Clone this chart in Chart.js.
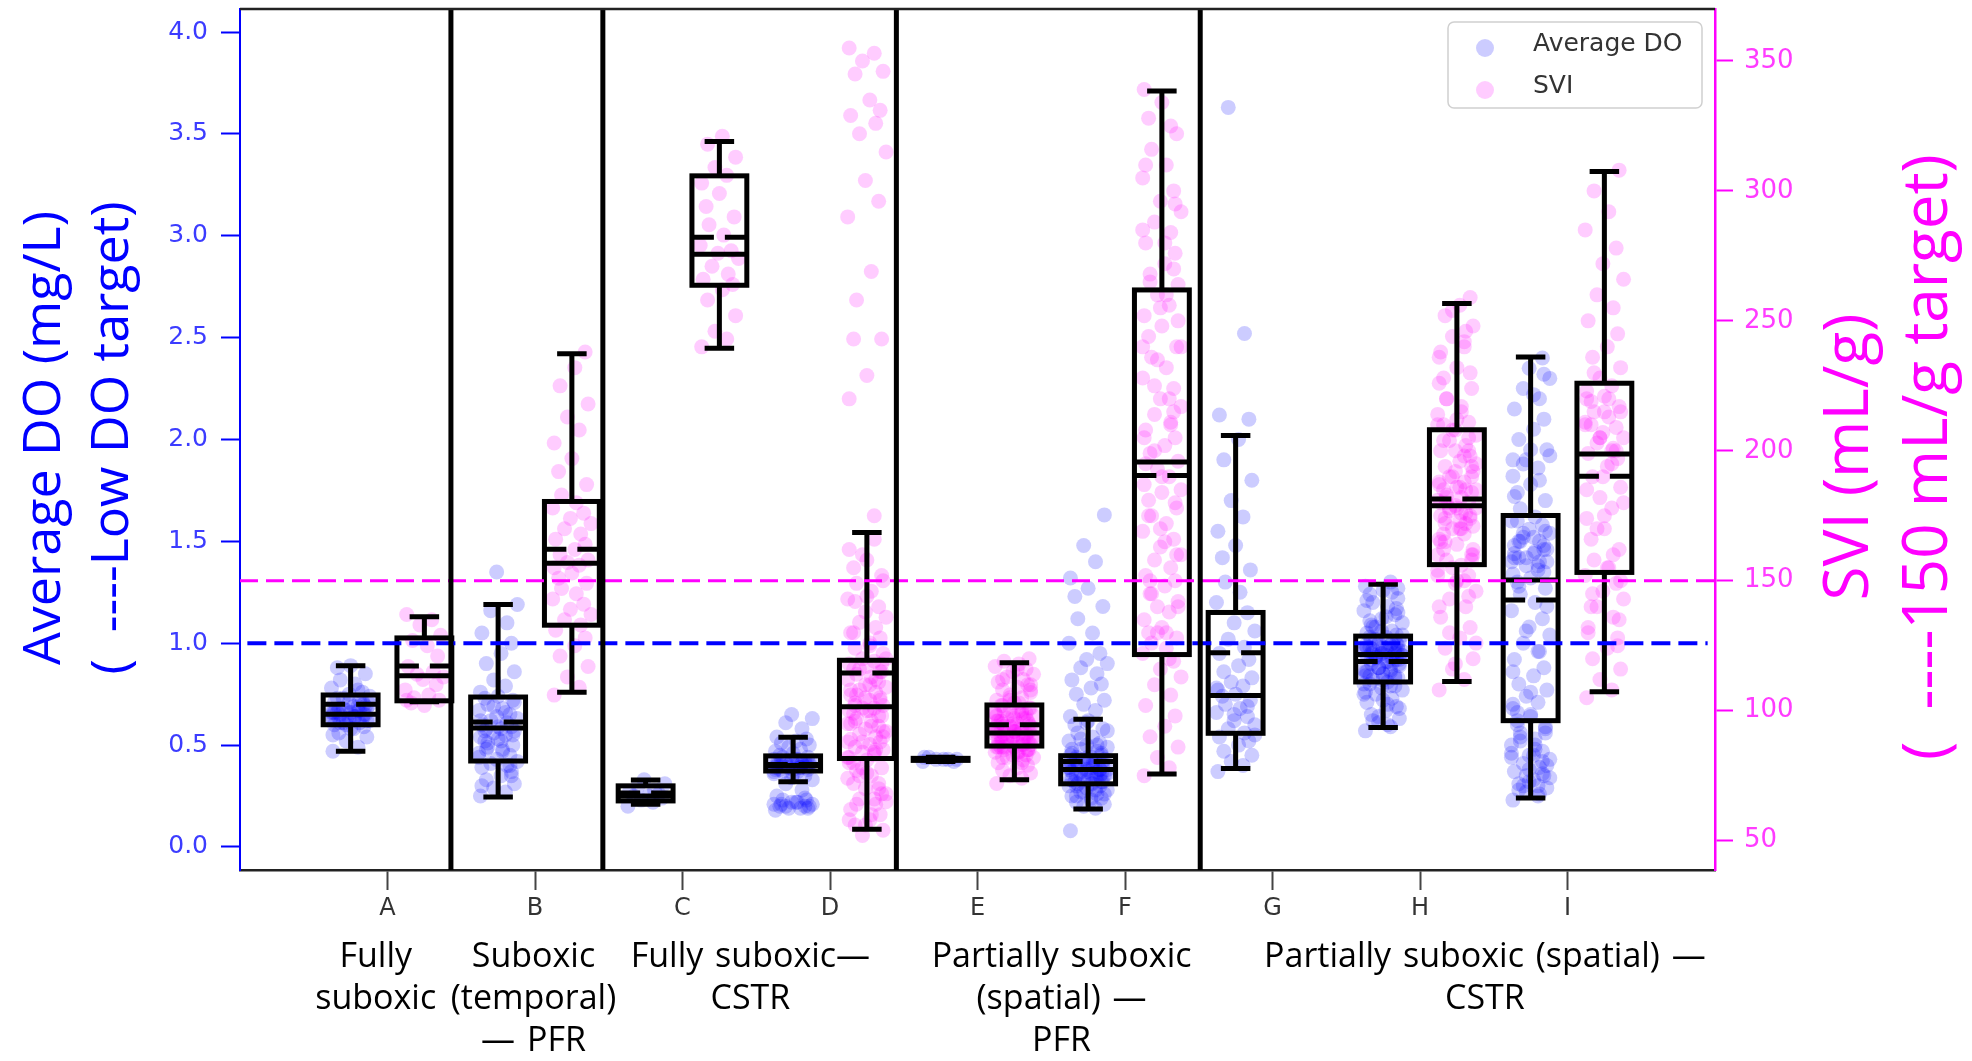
<!DOCTYPE html>
<html lang="en">
<head>
  <meta charset="UTF-8">
  <title>Average DO and SVI by operating mode</title>
  <script src="https://cdn.jsdelivr.net/npm/chart.js"></script>
  <style>
    body { margin: 0; background: #fff; }
    canvas { display: block; }
  </style>
</head>
<body>
<canvas id="doChart" width="1972" height="1061"></canvas>

<script>
  // Categories and group captions
  const CATS = ['A', 'B', 'C', 'D', 'E', 'F', 'G', 'H', 'I'];
  const GROUP_LABELS = [
    ['Fully', 'suboxic'],
    ['Suboxic', '(temporal)', '\u2014 PFR'],
    ['Fully suboxic\u2014', 'CSTR'],
    ['Partially suboxic', '(spatial) \u2014', 'PFR'],
    ['Partially suboxic (spatial) \u2014', 'CSTR']
  ];
  const GROUP_X = [-0.08, 0.99, 2.46, 4.57, 7.44];
  const SEPARATORS = [0.43, 1.46, 3.45, 5.51];

  const DO_TICKS = [0, 0.5, 1.0, 1.5, 2.0, 2.5, 3.0, 3.5, 4.0];
  const SVI_TICKS = [50, 100, 150, 200, 250, 300, 350];
  const DO_TARGET = 1.0;
  const SVI_TARGET = 150;

  // Average DO (mg/L) samples per category
  const DO_A = [0.47,0.49,0.52,0.54,0.56,0.58,0.59,0.60,0.61,0.61,0.62,0.63,0.63,0.64,0.64,0.65,0.65,0.66,0.66,0.66,0.67,0.67,0.68,0.68,0.69,0.70,0.71,0.72,0.73,0.74,0.75,0.76,0.78,0.80,0.82,0.85,0.88,0.89,0.62,0.69,
    0.60,0.62,0.63,0.64,0.65,0.66,0.67,0.68,0.70,0.71,0.72,0.66,0.64,0.61,0.69,0.73,0.58,0.55,0.77,0.63];
  const DO_B = [0.25,0.27,0.29,0.31,0.33,0.35,0.37,0.39,0.40,0.41,0.42,0.43,0.45,0.46,0.48,0.49,0.50,0.52,0.53,0.54,0.55,0.56,0.57,0.58,0.58,0.59,0.60,0.61,0.62,0.63,0.64,0.65,0.67,0.68,0.70,0.72,0.73,0.74,0.76,0.79,0.82,0.86,0.90,0.95,1.00,1.05,1.10,1.16,1.19,1.35,
    0.40,0.44,0.47,0.51,0.55,0.57,0.59,0.62,0.66,0.69,0.71,0.48,0.52,0.35,0.30];
  const DO_C = [0.20,0.22,0.23,0.24,0.25,0.25,0.26,0.27,0.28,0.30,0.31,0.33];
  const DO_D = [0.18,0.19,0.19,0.20,0.21,0.22,0.23,0.25,0.28,0.31,0.33,0.34,0.35,0.36,0.37,0.37,0.38,0.38,0.38,0.39,0.39,0.39,0.40,0.40,0.40,0.40,0.41,0.41,0.41,0.42,0.42,0.42,0.43,0.43,0.44,0.44,0.45,0.46,0.47,0.48,0.49,0.50,0.51,0.52,0.53,0.54,0.58,0.61,0.63,0.65,0.20,0.21,0.22,0.23,0.19,0.20,
    0.36,0.38,0.39,0.40,0.41,0.42,0.43,0.39,0.40,0.41,0.20,0.21,0.22,0.24,0.37];
  const DO_E = [0.42,0.43,0.43,0.43,0.44,0.43,0.42,0.44];
  const DO_F = [0.08,0.19,0.20,0.21,0.22,0.23,0.24,0.25,0.26,0.27,0.28,0.29,0.30,0.30,0.31,0.31,0.32,0.32,0.33,0.33,0.34,0.34,0.35,0.35,0.36,0.36,0.37,0.37,0.37,0.38,0.38,0.38,0.39,0.39,0.40,0.40,0.41,0.41,0.42,0.42,0.43,0.43,0.44,0.44,0.45,0.46,0.47,0.48,0.49,0.50,0.51,0.52,0.54,0.56,0.58,0.60,0.62,0.64,0.67,0.70,0.72,0.75,0.78,0.80,0.82,0.85,0.88,0.90,0.92,0.95,1.00,1.05,1.12,1.18,1.23,1.27,1.32,1.40,1.48,1.63,
    0.30,0.31,0.32,0.33,0.34,0.35,0.36,0.37,0.38,0.39,0.40,0.41,0.42,0.43,0.44,0.45,0.28,0.27,0.26,0.25,0.24,0.46,0.48,0.50,0.53,0.57,0.61,0.35,0.38,0.41];
  const DO_G = [0.37,0.40,0.42,0.45,0.47,0.50,0.52,0.54,0.56,0.58,0.60,0.62,0.64,0.66,0.68,0.70,0.72,0.74,0.75,0.77,0.79,0.81,0.83,0.86,0.89,0.92,0.95,0.98,1.02,1.06,1.10,1.15,1.20,1.25,1.30,1.36,1.42,1.48,1.55,1.62,1.70,1.80,1.90,2.00,2.10,2.12,2.52,3.63,0.55,0.65,0.69,0.78];
  const DO_H = [0.57,0.59,0.61,0.63,0.65,0.67,0.69,0.71,0.73,0.75,0.77,0.78,0.79,0.80,0.81,0.82,0.83,0.84,0.85,0.86,0.87,0.88,0.89,0.90,0.91,0.92,0.93,0.93,0.94,0.94,0.95,0.95,0.96,0.96,0.97,0.97,0.98,0.98,0.99,0.99,1.00,1.01,1.02,1.03,1.04,1.05,1.06,1.08,1.10,1.12,1.14,1.16,1.18,1.20,1.22,1.24,1.26,1.28,1.30,0.88,0.92,0.95,0.97,1.00,0.86,0.90,0.93,0.96,0.99,0.84,0.75,0.70,1.08,1.15,
    0.80,0.82,0.84,0.86,0.88,0.90,0.92,0.94,0.96,0.98,1.00,1.02,1.04,1.06,0.83,0.87,0.91,0.95,0.99,1.03,0.72,0.76,0.79,0.64,0.68,1.09,1.13,1.17,1.21,1.25,0.93,0.94,0.95,0.96,0.97,0.60,0.62,1.27,1.11,0.85];
  const DO_I = [0.23,0.25,0.27,0.29,0.31,0.33,0.35,0.37,0.39,0.41,0.43,0.45,0.47,0.50,0.53,0.56,0.59,0.62,0.65,0.68,0.71,0.74,0.77,0.80,0.84,0.88,0.92,0.96,1.00,1.04,1.08,1.12,1.16,1.20,1.24,1.27,1.30,1.32,1.34,1.36,1.38,1.40,1.42,1.44,1.46,1.48,1.50,1.52,1.54,1.56,1.58,1.60,1.62,1.66,1.70,1.74,1.78,1.82,1.86,1.90,1.95,2.00,2.05,2.10,2.15,2.20,2.25,2.30,2.35,2.40,1.40,1.45,1.50,1.55,1.60,1.95,1.90,0.30,0.35,0.40,0.28,0.45,1.35,1.42,
    0.26,0.30,0.34,0.38,0.42,0.46,0.50,0.54,0.58,0.60,0.64,0.70,1.38,1.42,1.46,1.50,1.52,1.48,1.44,1.40,1.88,1.92,0.32,0.36,0.44,0.48,0.52,0.56,0.66,0.76,0.86,0.96,1.06,1.18,1.28,2.22,2.32,1.72,1.80,1.54];

  // SVI (mL/g) samples per category (none for G)
  const SVI_A = [137,135,133,129,127,125,121,117,115,114,113,112,110,108,106,105,104,103,102,104];
  const SVI_B = [106,109,113,117,121,125,128,131,133,135,137,139,141,143,145,147,149,151,153,155,156,157,158,160,162,164,166,168,170,172,174,176,178,180,183,187,192,197,203,208,213,218,225,232,238];
  const SVI_C = [240,243,246,252,258,262,264,266,268,271,274,276,277,279,283,287,290,294,299,303,306,309,313,318,321];
  const SVI_D = [355,353,350,346,345,335,331,329,326,322,315,304,296,290,269,258,243,243,229,220,175,
    52,54,56,58,60,62,64,66,68,70,72,74,75,77,78,80,81,82,83,84,85,86,87,88,89,90,91,92,93,94,95,96,97,98,99,100,100,101,101,102,103,104,105,106,107,108,109,110,111,112,113,114,115,116,117,118,119,120,122,124,126,128,130,132,134,136,138,140,143,146,149,152,155,158,162,166,160,150,142,125,115,95,85,75,65,105,98,88,
    60,64,68,72,76,80,84,88,92,96,100,104,108,112,116,120,56,70,82,94,106,118,130,144,58,66,78,90,102,110];
  const SVI_E = [72,74,75,76,77,78,79,80,81,82,82,83,83,84,84,85,85,86,86,86,87,87,87,88,88,88,89,89,89,90,90,90,91,91,91,92,92,92,93,93,94,94,95,95,96,96,97,97,98,98,99,99,100,100,101,102,103,104,105,106,107,108,109,110,111,112,113,114,115,116,117,118,119,120,88,92,96,100,104,110,
    82,84,85,86,87,88,89,90,91,92,93,94,95,96,97,98,99,100,101,102,83,85,87,89,91,93,95,97,99,103,86,88,90,92,94,80,105,108,112,116];
  const SVI_F = [75,78,82,86,90,94,98,102,106,110,113,116,119,122,124,126,128,130,132,135,138,140,142,145,148,150,152,155,158,160,163,166,169,172,175,178,181,184,187,190,193,196,199,202,205,208,211,214,217,220,224,228,232,236,240,244,248,252,256,260,264,268,272,276,280,284,288,292,296,300,305,310,316,322,328,334,339,120,130,140,150,165,180,195,210,225,240,255,270,285,
    130,145,160,175,190,205,220,235,250,265,280,295,310,325,200,185,170,215,240,260];
  const SVI_G = [];
  const SVI_H = [108,112,116,120,124,128,132,136,140,143,146,149,152,154,156,158,160,162,164,166,168,170,171,172,173,174,175,176,177,178,179,180,181,182,183,184,185,186,187,188,190,192,194,196,198,200,202,204,206,208,211,214,217,220,224,228,232,236,240,244,248,252,256,259,165,172,178,185,192,200,160,170,180,190,210,150,140,
    150,155,160,165,170,175,180,185,190,195,200,205,210,215,220,158,168,178,188,198,208,162,174,186,230,238,246,130,126,118,144,152,176,182,194,204,212,226,242,254];
  const SVI_I = [105,108,112,116,120,124,128,132,136,140,143,146,149,152,155,158,162,166,170,174,178,182,186,190,194,197,199,201,203,205,207,209,211,213,215,217,219,221,223,225,228,232,236,240,245,250,255,260,266,272,278,285,292,300,308,210,215,220,200,205,150,145,155,125,130,
    160,170,180,190,200,210,220,230,135,140,175,185,195,205,215];

  // Box statistics (whisker low, Q1, median, mean, Q3, whisker high)
  const DO_WLO  = [0.47, 0.245, 0.21, 0.32, 0.42, 0.186, 0.385, 0.586, 0.241];
  const DO_Q1   = [0.60, 0.422, 0.226, 0.373, 0.425, 0.31, 0.558, 0.81, 0.62];
  const DO_MED  = [0.652, 0.584, 0.25, 0.40, 0.43, 0.38, 0.743, 0.945, 1.311];
  const DO_MEAN = [0.70, 0.613, 0.265, 0.405, 0.43, 0.42, 0.953, 0.91, 1.212];
  const DO_Q3   = [0.746, 0.736, 0.30, 0.447, 0.435, 0.448, 1.151, 1.035, 1.627];
  const DO_WHI  = [0.889, 1.19, 0.329, 0.539, 0.44, 0.627, 2.02, 1.289, 2.405];

  const SVI_WLO  = [103.4, 107.1, 239.5, 54.4, 73.4, 75.6, null, 111.2, 107.3];
  const SVI_Q1   = [103.8, 132.9, 263.7, 81.6, 86.4, 121.6, null, 156.2, 153.2];
  const SVI_MED  = [113.4, 156.7, 275.6, 101.5, 91.4, 195.7, null, 178.9, 198.8];
  const SVI_MEAN = [117.2, 162.1, 282.2, 114.5, 94.6, 190.5, null, 181.5, 190.2];
  const SVI_Q3   = [128.0, 180.5, 305.8, 119.4, 102.2, 261.9, null, 208.1, 226.0];
  const SVI_WHI  = [136.1, 237.3, 319.0, 168.6, 118.4, 338.4, null, 256.7, 307.5];

  // strip-plot horizontal spread (in category units)
  const JITTER = [-0.12, 0.05, -0.03, 0.11, -0.08, 0.02, 0.09, -0.11, 0.06, -0.05, 0.13, -0.01, 0.08, -0.13, 0.03, -0.07, 0.10, -0.09, 0.0];
  const DO_SHIFT = -0.25;
  const SVI_SHIFT = 0.25;

  const BLUE = '#0000ff';
  const MAGENTA = '#ff00ff';

  function strip(groups, shift) {
    const pts = [];
    groups.forEach((vals, i) => {
      vals.forEach((v, k) => pts.push({ x: i + shift + JITTER[k % JITTER.length], y: v }));
    });
    return pts;
  }

  const doPoints = strip([DO_A, DO_B, DO_C, DO_D, DO_E, DO_F, DO_G, DO_H, DO_I], DO_SHIFT);
  const sviPoints = strip([SVI_A, SVI_B, SVI_C, SVI_D, SVI_E, SVI_F, SVI_G, SVI_H, SVI_I], SVI_SHIFT);

  function drawBoxes(ctx, xs, ys, shift, st) {
    const halfBox = 0.186, halfCap = 0.1;
    ctx.save();
    ctx.strokeStyle = '#000';
    ctx.lineWidth = 5;
    ctx.lineCap = 'butt';
    for (let i = 0; i < CATS.length; i++) {
      if (st.q1[i] == null) continue;
      const cx = i + shift;
      const xl = xs.getPixelForValue(cx - halfBox), xr = xs.getPixelForValue(cx + halfBox);
      const xm = xs.getPixelForValue(cx);
      const cl = xs.getPixelForValue(cx - halfCap), cr = xs.getPixelForValue(cx + halfCap);
      const yq1 = ys.getPixelForValue(st.q1[i]), yq3 = ys.getPixelForValue(st.q3[i]);
      const ylo = ys.getPixelForValue(st.lo[i]), yhi = ys.getPixelForValue(st.hi[i]);
      const ymed = ys.getPixelForValue(st.med[i]), ymean = ys.getPixelForValue(st.mean[i]);
      ctx.setLineDash([]);
      ctx.beginPath();
      // whiskers
      ctx.moveTo(xm, yq1); ctx.lineTo(xm, ylo);
      ctx.moveTo(xm, yq3); ctx.lineTo(xm, yhi);
      ctx.moveTo(cl, ylo); ctx.lineTo(cr, ylo);
      ctx.moveTo(cl, yhi); ctx.lineTo(cr, yhi);
      ctx.stroke();
      ctx.strokeRect(xl, yq3, xr - xl, yq1 - yq3);
      ctx.beginPath();
      ctx.moveTo(xl, ymed); ctx.lineTo(xr, ymed);
      ctx.stroke();
      const w = xr - xl;
      ctx.setLineDash([w * 0.4, w * 0.2]);
      ctx.beginPath();
      ctx.moveTo(xl, ymean); ctx.lineTo(xr, ymean);
      ctx.stroke();
    }
    ctx.restore();
  }

  const overlay = {
    id: 'overlay',
    afterDatasetDraw(chart, args) {
      if (args.index !== 2) return;
      const { ctx, scales } = chart;
      drawBoxes(ctx, scales.x, scales.y, DO_SHIFT,
        { lo: DO_WLO, q1: DO_Q1, med: DO_MED, mean: DO_MEAN, q3: DO_Q3, hi: DO_WHI });
      drawBoxes(ctx, scales.x, scales.y2, SVI_SHIFT,
        { lo: SVI_WLO, q1: SVI_Q1, med: SVI_MED, mean: SVI_MEAN, q3: SVI_Q3, hi: SVI_WHI });
    },
    afterDatasetsDraw(chart) {
      const { ctx, chartArea: ca, scales } = chart;
      ctx.save();
      // group separators
      ctx.strokeStyle = '#000';
      ctx.lineWidth = 5;
      SEPARATORS.forEach(s => {
        const x = scales.x.getPixelForValue(s);
        ctx.beginPath(); ctx.moveTo(x, ca.top); ctx.lineTo(x, ca.bottom); ctx.stroke();
      });
      // top frame line
      ctx.strokeStyle = '#222';
      ctx.lineWidth = 2.5;
      ctx.beginPath(); ctx.moveTo(ca.left, ca.top); ctx.lineTo(ca.right, ca.top); ctx.stroke();

      // legend
      const lx = ca.right - 267, ly = ca.top + 13, lw = 254, lh = 86;
      ctx.fillStyle = 'rgba(255,255,255,0.85)';
      ctx.strokeStyle = '#d0d0d0';
      ctx.lineWidth = 1.5;
      ctx.beginPath(); ctx.roundRect(lx, ly, lw, lh, 6); ctx.fill(); ctx.stroke();
      const items = [['Average DO', 'rgba(0,0,255,0.2)'], ['SVI', 'rgba(255,0,255,0.2)']];
      items.forEach((it, k) => {
        const y = ly + 22 + k * 42;
        ctx.fillStyle = it[1];
        ctx.beginPath(); ctx.arc(lx + 37, y + 4, 9, 0, Math.PI * 2); ctx.fill();
        ctx.fillStyle = '#333';
        ctx.font = '25px "DejaVu Sans"';
        ctx.textAlign = 'left';
        ctx.textBaseline = 'middle';
        ctx.fillText(it[0], lx + 85, y);
      });
      ctx.restore();
    },
    afterDraw(chart) {
      const { ctx, scales } = chart;
      ctx.save();
      // axis titles, read bottom-to-top on both sides
      const title = (lines, xs, yc, color, size) => {
        lines.forEach((t, k) => {
          ctx.save();
          ctx.translate(xs[k], yc);
          ctx.rotate(-Math.PI / 2);
          ctx.fillStyle = color;
          ctx.font = size + 'px "Open Sans"';
          ctx.textAlign = 'center';
          ctx.textBaseline = 'alphabetic';
          ctx.fillText(t, 0, 0);
          ctx.restore();
        });
      };
      title(['Average DO (mg/L)', '(  ----Low DO target)'], [60, 128], 438, BLUE, 52);
      title(['SVI (mL/g)', '(  ----150 mL/g target)'], [1868, 1947], 457, MAGENTA, 62);

      // category group captions
      ctx.fillStyle = '#000';
      ctx.font = '34px "Open Sans"';
      ctx.wordSpacing = '3px';
      ctx.textAlign = 'center';
      ctx.textBaseline = 'alphabetic';
      GROUP_LABELS.forEach((lines, g) => {
        const x = scales.x.getPixelForValue(GROUP_X[g]);
        lines.forEach((t, k) => ctx.fillText(t, x, 967 + k * 42));
      });
      ctx.restore();
    }
  };

  const noPad = s => { s.paddingTop = 0; s.paddingBottom = 0; };

  const ctx = document.getElementById('doChart').getContext('2d');
  new Chart(ctx, {
    data: {
      datasets: [
        {
          type: 'line', label: 'SVI target', yAxisID: 'y2',
          data: [{ x: -1, y: SVI_TARGET }, { x: 9, y: SVI_TARGET }],
          borderColor: MAGENTA, borderWidth: 3, borderDash: [18, 8], pointRadius: 0, fill: false
        },
        {
          type: 'line', label: 'DO target', yAxisID: 'y',
          data: [{ x: -0.95, y: DO_TARGET }, { x: 8.95, y: DO_TARGET }],
          borderColor: BLUE, borderWidth: 4, borderDash: [19, 8], pointRadius: 0, fill: false
        },
        {
          type: 'scatter', label: 'SVI', yAxisID: 'y2', data: sviPoints,
          pointRadius: 7.5, pointHoverRadius: 7.5, borderWidth: 0,
          backgroundColor: 'rgba(255,0,255,0.2)'
        },
        {
          type: 'scatter', label: 'Average DO', yAxisID: 'y', data: doPoints,
          pointRadius: 7.5, pointHoverRadius: 7.5, borderWidth: 0,
          backgroundColor: 'rgba(0,0,255,0.2)'
        }
      ]
    },
    options: {
      responsive: false,
      animation: false,
      layout: { padding: { top: 9, left: 0, right: 0, bottom: 0 } },
      plugins: { legend: { display: false }, tooltip: { enabled: false } },
      scales: {
        x: {
          type: 'linear', position: 'bottom', min: -1, max: 9,
          afterBuildTicks: s => { s.ticks = CATS.map((c, i) => ({ value: i })); },
          afterFit: s => { s.height = 191; s.paddingLeft = 0; s.paddingRight = 0; },
          ticks: {
            callback: v => CATS[v], color: '#333', padding: 4,
            font: { family: 'DejaVu Sans', size: 24 }, maxRotation: 0, autoSkip: false
          },
          grid: { drawOnChartArea: false, tickLength: 20, tickWidth: 2, tickColor: '#444' },
          border: { color: '#222', width: 2.5 }
        },
        y: {
          type: 'linear', position: 'left', min: -0.113, max: 4.113,
          afterBuildTicks: s => { s.ticks = DO_TICKS.map(v => ({ value: v })); },
          afterFit: s => { s.width = 240; noPad(s); },
          ticks: {
            callback: v => v.toFixed(1), color: '#3c3cff', padding: 13,
            font: { family: 'DejaVu Sans', size: 25 }
          },
          grid: { drawOnChartArea: false, tickLength: 19, tickWidth: 2, tickColor: BLUE },
          border: { color: BLUE, width: 2 }
        },
        y2: {
          type: 'linear', position: 'right', min: 38.7, max: 370,
          afterBuildTicks: s => { s.ticks = SVI_TICKS.map(v => ({ value: v })); },
          afterFit: s => { s.width = 257; noPad(s); },
          ticks: {
            color: '#ff3cff', padding: 11,
            font: { family: 'DejaVu Sans', size: 26 }
          },
          grid: { drawOnChartArea: false, tickLength: 18, tickWidth: 2, tickColor: MAGENTA },
          border: { color: MAGENTA, width: 2.5 }
        }
      }
    },
    plugins: [overlay]
  });
</script>
</body>
</html>
